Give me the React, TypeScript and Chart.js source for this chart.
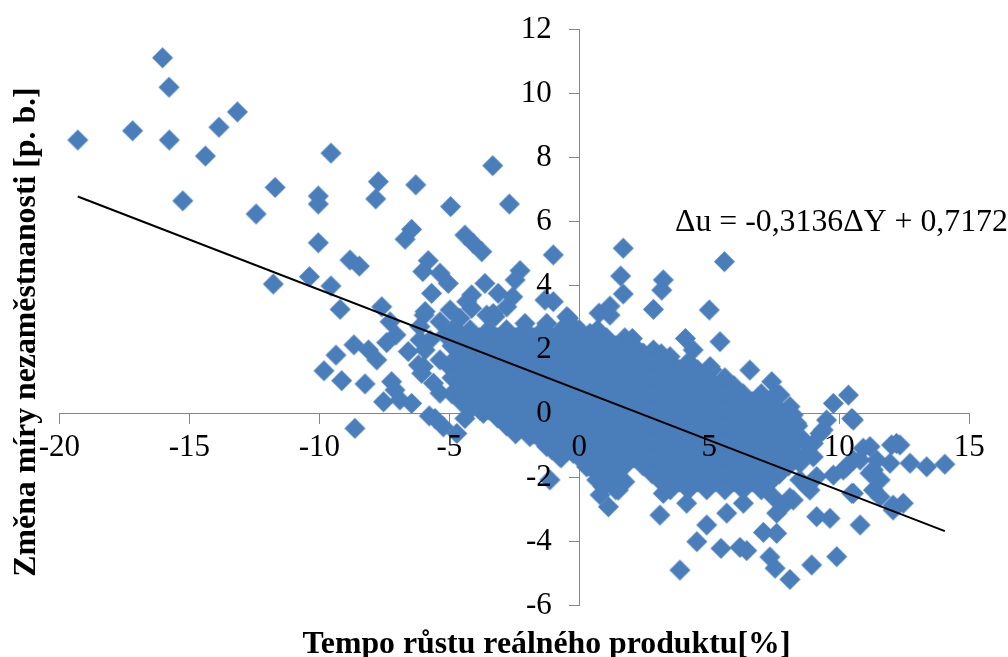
import React, { useEffect, useRef } from 'react';
import { Chart, registerables } from 'chart.js';

Chart.register(...registerables);

const FONT = "'Liberation Serif', 'Times New Roman', Times, serif";
const X_TITLE = 'Tempo růstu reálného produktu[%]';
const Y_TITLE = 'Změna míry nezaměstnanosti [p. b.]';
const X_MIN = -20;
const X_MAX = 15;
const X_STEP = 5;
const Y_MIN = -6;
const Y_MAX = 12;
const Y_STEP = 2;
const SLOPE = -0.3136;
const INTERCEPT = 0.7172;
const POINT_COLOR = '#4A7EBB';

// scattered points, far left (ΔY < -9)
const farLeftPoints: [number, number][] = [
  [-16.03, 11.1], [-15.78, 10.18], [-19.29, 8.53], [-17.18, 8.82], [-15.77, 8.53],
  [-14.38, 8.03], [-13.86, 8.93], [-13.15, 9.41], [-9.55, 8.12], [-15.25, 6.63],
  [-11.7, 7.05], [-12.43, 6.22], [-10.04, 6.78], [-10.04, 6.53], [-10.04, 5.32],
  [-10.38, 4.26], [-11.77, 4.03], [-9.55, 3.97], [-9.2, 3.24], [-9.36, 1.81],
  [-9.82, 1.32], [-9.14, 1.01],
];

// scattered points, left (ΔY between -9 and -5.5)
const leftPoints: [number, number][] = [
  [-7.73, 7.23], [-7.83, 6.69], [-6.29, 7.13], [-6.45, 5.74], [-6.7, 5.43],
  [-8.82, 4.78], [-8.46, 4.59], [-5.81, 4.76], [-6.02, 4.42], [-5.68, 3.74],
  [-7.6, 3.32], [-5.97, 3.06], [-7.28, 2.85], [-7.05, 2.44], [-7.41, 2.2],
  [-6.13, 2.28], [-8.67, 2.13], [-8.11, 1.97], [-7.79, 1.66], [-8.24, 0.91],
  [-7.22, 0.98], [-7.09, 0.72], [-7.53, 0.35], [-6.9, 0.41], [-6.45, 0.3],
  [-6.58, 1.92], [-6.19, 1.5], [-6.06, 1.24], [-8.63, -0.48], [-5.77, -0.09],
  [-6.13, 2.7], [-5.74, 2.28], [-5.93, 1.97], [-6.0, 1.45], [-5.61, 0.93],
  [-5.36, 0.62], [-5.93, 3.17],
];

// scattered points, upper middle
const upperMiddlePoints: [number, number][] = [
  [-3.33, 7.73], [-4.95, 6.45], [-2.69, 6.53], [-4.4, 5.56], [-4.08, 5.3],
  [-3.75, 5.04], [-1.0, 4.94], [-5.36, 4.37], [-5.04, 4.05], [-3.63, 4.05],
  [-3.12, 3.74], [-2.28, 4.45], [-2.47, 4.16], [-2.56, 3.63], [-4.33, 3.48],
  [-4.14, 3.69], [-4.97, 3.22], [-3.31, 3.11], [-2.09, 2.8], [-1.25, 2.8],
  [-0.42, 2.96], [-1.32, 3.53], [-1.0, 3.48], [-4.14, 3.27], [-5.36, 2.85],
  [-4.59, 2.96], [-3.56, 3.06], [-3.24, 3.01], [-2.79, 3.32], [-0.48, 3.01],
  [-0.23, 2.7], [0.76, 3.12], [0.41, 2.49], [-5.17, 2.44], [-4.59, 2.49],
  [-5.36, 1.66], [-4.84, 2.07], [-5.0, 1.45],
];

// scattered points, upper right
const upperRightPoints: [number, number][] = [
  [1.69, 5.15], [1.59, 4.28], [1.69, 3.72], [3.23, 4.16], [3.17, 3.84],
  [2.85, 3.24], [1.18, 3.34], [1.18, 3.06], [5.58, 4.73], [5.0, 3.22],
  [2.04, 2.33], [4.08, 2.33], [5.41, 2.23], [4.38, 1.97], [3.49, 1.76],
  [6.56, 1.34], [5.03, 1.45], [5.54, 1.03], [7.4, 0.98], [7.72, 0.56],
  [8.1, 0.2], [7.98, -0.11], [2.46, 1.87], [2.85, 1.97], [1.5, 1.97],
  [7.59, 0.62], [8.23, -0.06],
];

// scattered points below the cloud, left part
const lowerLeftPoints: [number, number][] = [
  [-5.55, -0.17], [-5.23, -0.43], [-4.71, -0.64], [-4.4, -0.17], [-3.69, -0.01],
  [-3.82, 0.09], [-2.41, -0.53], [-1.9, -0.74], [-1.25, -1.05], [-0.74, -1.37],
  [-0.23, -1.26], [-1.13, -2.09], [0.28, -1.68], [0.67, -2.09], [0.8, -2.56],
  [1.12, -2.93], [1.31, -2.2], [0.92, -2.3], [1.5, -2.41],
];

// scattered points below the cloud, right part
const lowerRightPoints: [number, number][] = [
  [3.1, -3.19], [3.23, -2.51], [3.87, -4.91], [4.13, -2.82], [4.52, -4.02],
  [4.9, -3.5], [5.45, -4.23], [6.18, -4.2], [6.44, -4.3], [5.67, -3.13],
  [6.31, -2.82], [7.08, -3.73], [7.59, -3.76], [7.33, -4.5], [7.53, -4.85],
  [8.1, -5.2], [7.59, -3.13], [7.85, -2.9], [7.46, -2.62], [8.1, -2.65],
  [8.94, -4.75], [9.9, -4.49], [9.13, -3.24], [9.64, -3.29], [10.8, -3.5],
];

// scattered points, far right
const farRightPoints: [number, number][] = [
  [11.57, -2.09], [12.07, -2.88], [12.46, -2.82], [11.31, -2.41], [10.54, -2.51],
  [8.87, -2.41], [8.48, -2.09], [10.92, -1.1], [12.01, -1.0], [12.33, -1.0],
  [12.72, -1.57], [13.36, -1.68], [14.06, -1.6], [11.95, -1.57], [11.44, -1.47],
  [11.18, -1.88], [10.28, -1.68], [9.77, -1.94], [10.54, -1.47], [10.35, 0.56],
  [9.77, 0.3], [10.54, -0.22], [9.51, -0.22], [9.26, -0.64], [9.0, -0.95],
  [8.62, -0.84], [8.75, -1.26], [10.48, -0.17], [9.38, -0.53], [11.18, -1.05],
  [12.2, -0.95], [10.8, -1.47], [11.31, -1.78], [10.15, -1.78], [10.48, -2.51],
  [11.57, -2.62], [12.07, -3.03], [8.36, -0.32], [7.98, -0.74], [9.0, -1.37],
  [8.49, -1.57], [9.13, -1.99], [8.75, -2.3], [8.23, -2.72],
];

// dense core of the cloud: [Δu, list of ΔY values]
const coreRows: [number, number[]][] = [
  [2.6, [-4.9, -4.2, -3.5, -2.8, -2.1, -1.4, -0.7, 0.0, 0.7]],
  [2.35, [-4.55, -3.85, -3.15, -2.45, -1.75, -1.05, -0.35, 0.35, 1.05, 1.75]],
  [2.1, [-4.9, -4.2, -3.5, -2.8, -2.1, -1.4, -0.7, 0.0, 0.7, 1.4, 2.1]],
  [1.85, [-4.55, -3.85, -3.15, -2.45, -1.75, -1.05, -0.35, 0.35, 1.05, 1.75, 2.45, 3.15]],
  [1.6, [-4.9, -4.2, -3.5, -2.8, -2.1, -1.4, -0.7, 0.0, 0.7, 1.4, 2.1, 2.8, 3.5, 4.2]],
  [1.35, [-4.55, -3.85, -3.15, -2.45, -1.75, -1.05, -0.35, 0.35, 1.05, 1.75, 2.45, 3.15, 3.85, 4.55, 5.1]],
  [1.1, [-4.9, -4.2, -3.5, -2.8, -2.1, -1.4, -0.7, 0.0, 0.7, 1.4, 2.1, 2.8, 3.5, 4.2, 4.9, 5.6]],
  [0.85, [-4.55, -3.85, -3.15, -2.45, -1.75, -1.05, -0.35, 0.35, 1.05, 1.75, 2.45, 3.15, 3.85, 4.55, 5.25, 5.95]],
  [0.6, [-4.9, -4.2, -3.5, -2.8, -2.1, -1.4, -0.7, 0.0, 0.7, 1.4, 2.1, 2.8, 3.5, 4.2, 4.9, 5.6, 6.3, 7.0]],
  [0.35, [-4.55, -3.85, -3.15, -2.45, -1.75, -1.05, -0.35, 0.35, 1.05, 1.75, 2.45, 3.15, 3.85, 4.55, 5.25, 5.95, 6.65, 7.35]],
  [0.1, [-4.2, -3.5, -2.8, -2.1, -1.4, -0.7, 0.0, 0.7, 1.4, 2.1, 2.8, 3.5, 4.2, 4.9, 5.6, 6.3, 7.0, 7.7]],
  [-0.15, [-3.15, -2.45, -1.75, -1.05, -0.35, 0.35, 1.05, 1.75, 2.45, 3.15, 3.85, 4.55, 5.25, 5.95, 6.65, 7.35, 8.05]],
  [-0.4, [-2.8, -2.1, -1.4, -0.7, 0.0, 0.7, 1.4, 2.1, 2.8, 3.5, 4.2, 4.9, 5.6, 6.3, 7.0, 7.7, 8.4]],
  [-0.65, [-2.45, -1.75, -1.05, -0.35, 0.35, 1.05, 1.75, 2.45, 3.15, 3.85, 4.55, 5.25, 5.95, 6.65, 7.35, 8.05]],
  [-0.9, [-1.4, -0.7, 0.0, 0.7, 1.4, 2.1, 2.8, 3.5, 4.2, 4.9, 5.6, 6.3, 7.0, 7.7, 8.4]],
  [-1.15, [-1.05, -0.35, 0.35, 1.05, 1.75, 2.45, 3.15, 3.85, 4.55, 5.25, 5.95, 6.65, 7.35, 8.05]],
  [-1.4, [-0.7, 0.0, 0.7, 1.4, 2.1, 2.8, 3.5, 4.2, 4.9, 5.6, 6.3, 7.0, 7.7, 8.4]],
  [-1.65, [0.35, 1.05, 1.75, 2.45, 3.15, 3.85, 4.55, 5.25, 5.95, 6.65, 7.35, 8.05]],
  [-1.9, [0.7, 1.4, 2.8, 3.5, 4.2, 4.9, 5.6, 6.3, 7.0, 7.7]],
  [-2.15, [1.05, 1.75, 3.15, 3.85, 4.55, 5.25, 5.95, 6.65, 7.35]],
  [-2.4, [1.4, 3.5, 4.2, 4.9, 5.6, 6.3, 7.0]],
];

const fmtComma = (v: number) => v.toFixed(4).replace('.', ',');

function makeDiamond(color: string, half: number): HTMLCanvasElement {
  const size = Math.ceil(half * 2) + 2;
  const c = document.createElement('canvas');
  c.width = size;
  c.height = size;
  const g = c.getContext('2d');
  const m = size / 2;
  if (g) {
    g.fillStyle = color;
    g.beginPath();
    g.moveTo(m, m - half);
    g.lineTo(m + half, m);
    g.lineTo(m, m + half);
    g.lineTo(m - half, m);
    g.closePath();
    g.fill();
  }
  return c;
}

export default function App() {
  const canvasRef = useRef<HTMLCanvasElement | null>(null);

  useEffect(() => {
    const canvas = canvasRef.current;
    if (!canvas) return;

    const pairs: [number, number][] = [
      ...farLeftPoints,
      ...leftPoints,
      ...upperMiddlePoints,
      ...upperRightPoints,
      ...lowerLeftPoints,
      ...lowerRightPoints,
      ...farRightPoints,
    ];
    coreRows.forEach(([y, xs]) => xs.forEach((x) => pairs.push([x, y])));
    const points = pairs.map(([x, y]) => ({ x, y }));

    const xs = pairs.map((p) => p[0]);
    const xLo = Math.min(...xs);
    const xHi = Math.max(...xs);
    const trend = [
      { x: xLo, y: SLOPE * xLo + INTERCEPT },
      { x: xHi, y: SLOPE * xHi + INTERCEPT },
    ];

    const equation = `Δu = ${SLOPE < 0 ? '-' : ''}${fmtComma(Math.abs(SLOPE))}ΔY + ${fmtComma(INTERCEPT)}`;
    const diamond = makeDiamond(POINT_COLOR, 10.5);

    // tick labels are drawn above the markers, as in the reference
    const tickLabelPlugin = {
      id: 'tickLabels',
      afterDatasetsDraw(chart: any) {
        const { ctx } = chart;
        const xScale = chart.scales.x;
        const yScale = chart.scales.y;
        const axisX = xScale.getPixelForValue(0);
        const axisY = yScale.getPixelForValue(0);
        ctx.save();
        ctx.fillStyle = '#000';
        ctx.font = `31px ${FONT}`;
        ctx.textBaseline = 'middle';
        ctx.textAlign = 'right';
        yScale.ticks.forEach((t: any) => {
          ctx.fillText(String(t.value), axisX - 27.5, yScale.getPixelForValue(t.value) + 1);
        });
        ctx.textAlign = 'center';
        xScale.ticks.forEach((t: any) => {
          ctx.fillText(String(t.value), xScale.getPixelForValue(t.value), axisY + 34.5);
        });
        ctx.restore();
      },
    };

    const textPlugin = {
      id: 'textPlugin',
      afterDraw(chart: any) {
        const { ctx } = chart;
        ctx.save();
        ctx.fillStyle = '#000';
        ctx.textBaseline = 'alphabetic';
        // equation
        ctx.font = `31.8px ${FONT}`;
        ctx.textAlign = 'left';
        ctx.fillText(equation, 675, 231);
        // x title
        ctx.font = `bold 31.8px ${FONT}`;
        ctx.textAlign = 'center';
        ctx.fillText(X_TITLE, 546.5, 653);
        // y title
        ctx.translate(34.5, 332);
        ctx.rotate(-Math.PI / 2);
        ctx.fillText(Y_TITLE, 0, 0);
        ctx.restore();
      },
    };

    const axisColor = '#868686';
    const gridOpts = {
      drawOnChartArea: false,
      drawTicks: true,
      tickLength: 10,
      color: axisColor,
      lineWidth: 1,
    };

    const chart = new Chart(canvas, {
      type: 'scatter',
      data: {
        datasets: [
          {
            label: 'trend',
            data: trend,
            showLine: true,
            borderColor: '#000000',
            borderWidth: 2,
            pointRadius: 0,
            order: 0,
          },
          {
            label: 'data',
            data: points,
            pointStyle: diamond,
            pointRadius: 10,
            pointHoverRadius: 10,
            backgroundColor: POINT_COLOR,
            borderColor: POINT_COLOR,
            borderWidth: 0,
            order: 1,
          },
        ],
      },
      options: {
        animation: false,
        responsive: false,
        devicePixelRatio: 1,
        events: [],
        layout: { padding: { left: 59.3, right: 38.7, top: 29, bottom: 52 } },
        plugins: {
          legend: { display: false },
          tooltip: { enabled: false },
          title: { display: false },
        },
        scales: {
          x: {
            type: 'linear',
            position: { y: 0 } as any,
            min: X_MIN,
            max: X_MAX,
            ticks: { display: false, stepSize: X_STEP, padding: 0 },
            grid: gridOpts,
            border: { display: true, color: axisColor, width: 1 },
          },
          y: {
            type: 'linear',
            position: { x: 0 } as any,
            min: Y_MIN,
            max: Y_MAX,
            ticks: { display: false, stepSize: Y_STEP, padding: 0 },
            grid: gridOpts,
            border: { display: true, color: axisColor, width: 1 },
          },
        },
      } as any,
      plugins: [tickLabelPlugin, textPlugin],
    });

    return () => chart.destroy();
  }, []);

  return (
    <div style={{ position: 'absolute', left: 0, top: 0, width: 1008, height: 657, background: '#fff' }}>
      <canvas ref={canvasRef} width={1008} height={657} style={{ display: 'block', width: 1008, height: 657 }} />
    </div>
  );
}
